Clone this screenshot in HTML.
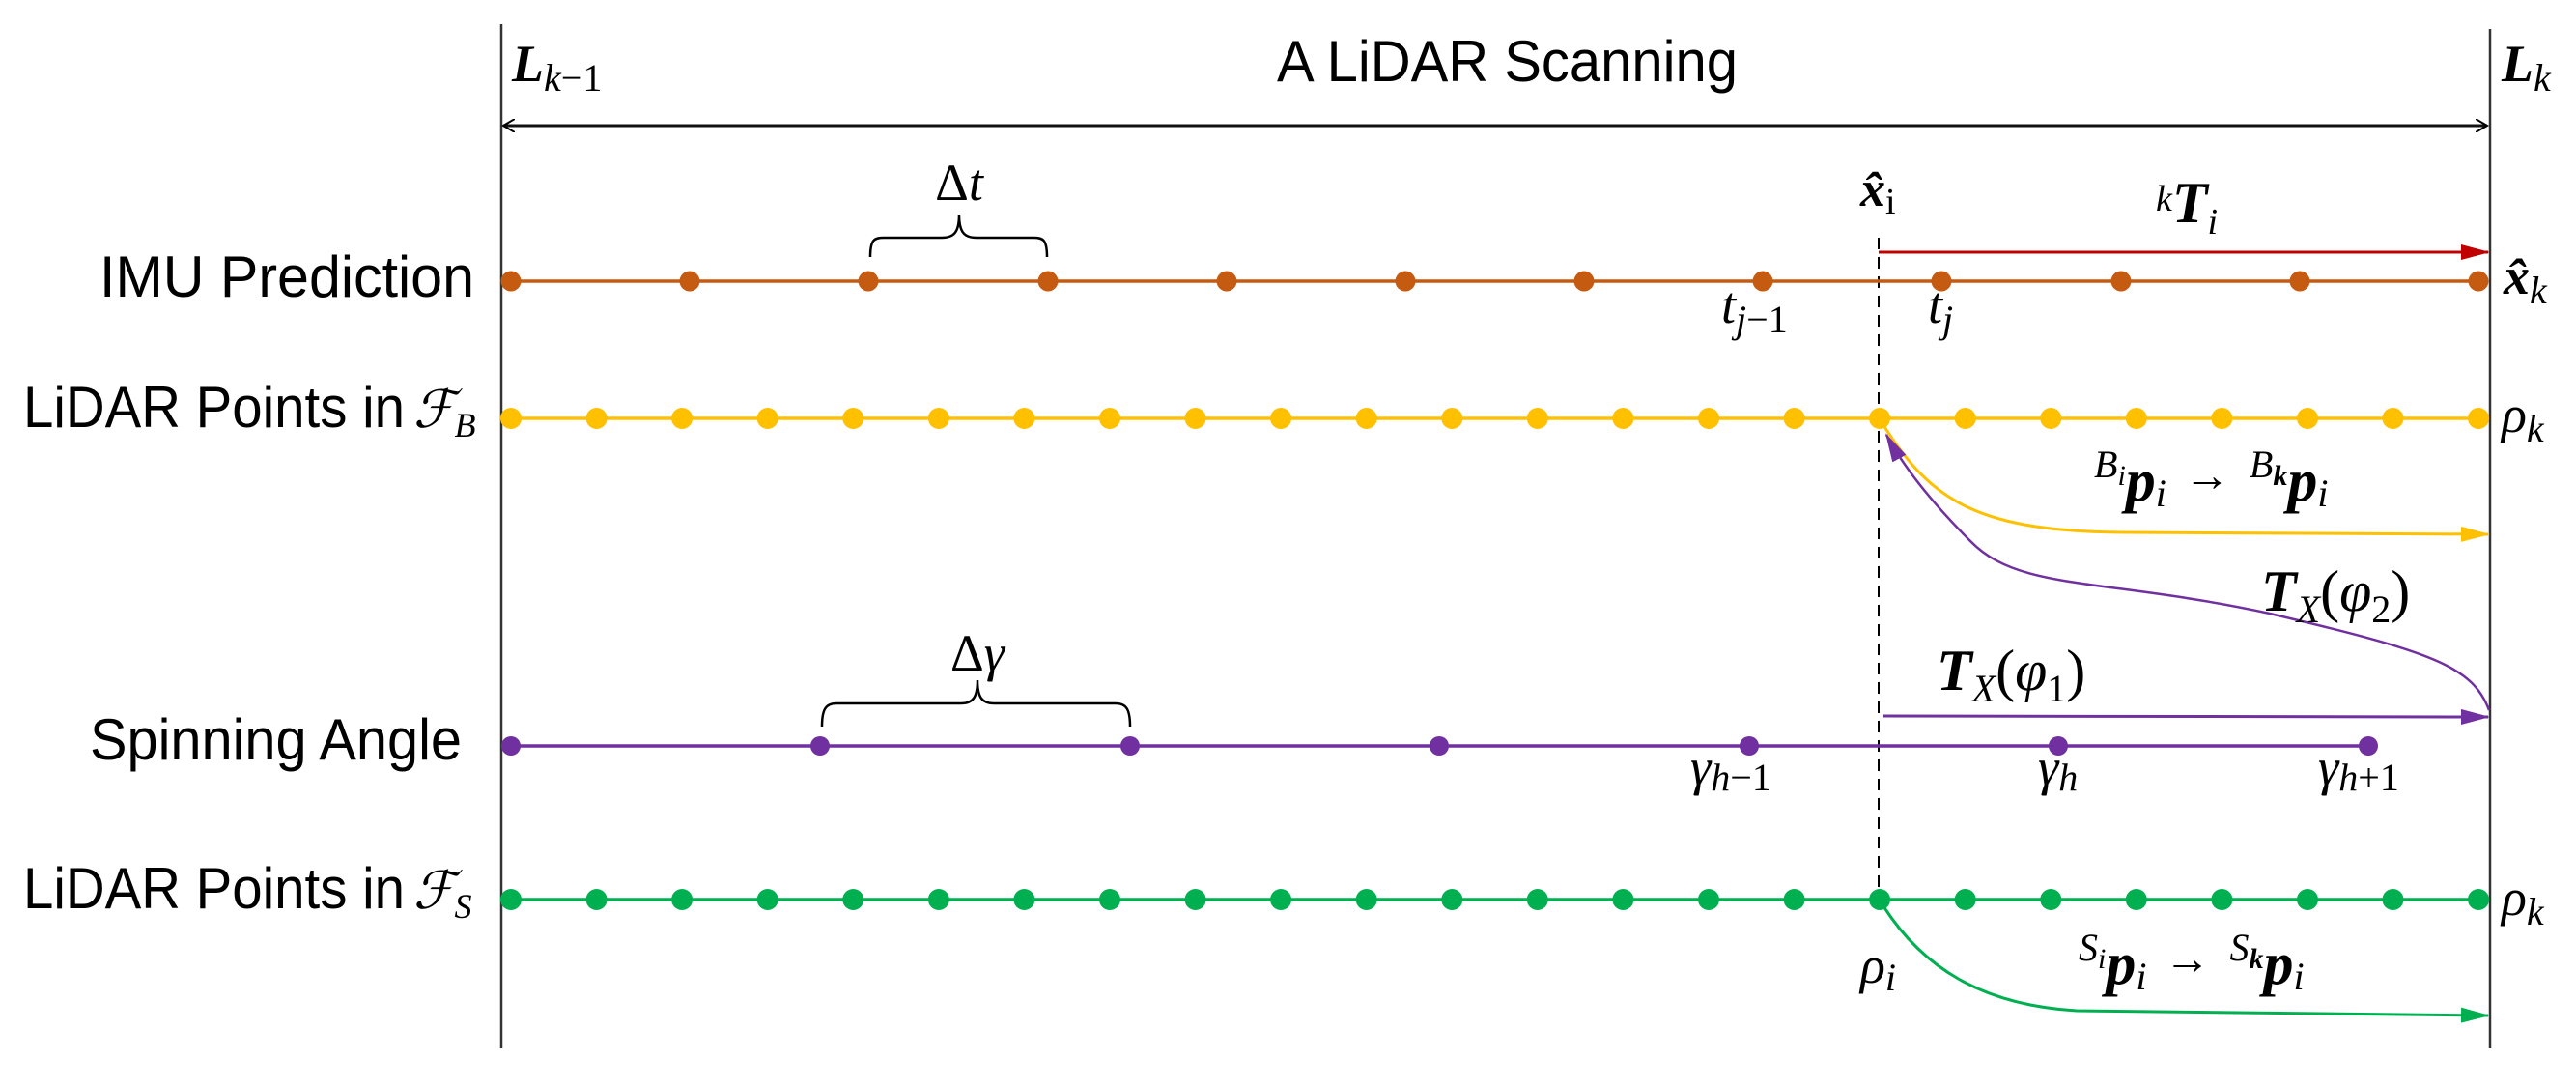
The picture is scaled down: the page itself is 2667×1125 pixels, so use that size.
<!DOCTYPE html>
<html><head><meta charset="utf-8"><style>
html,body{margin:0;padding:0;background:#fff;}
svg{display:block;}
.lab{font-family:"Liberation Sans",sans-serif;font-size:60px;fill:#000;}
.m{font-family:"Liberation Serif",serif;font-style:italic;fill:#000;}
.b{font-weight:bold;}
</style></head><body>
<svg width="2667" height="1125" viewBox="0 0 2667 1125" xmlns="http://www.w3.org/2000/svg">
<defs>
<marker id="open" markerWidth="14" markerHeight="14" refX="12" refY="7" orient="auto-start-reverse" markerUnits="userSpaceOnUse"><path d="M0,0 L12,7 L0,14" fill="none" stroke="#000" stroke-width="2"/></marker>
<marker id="ar" markerWidth="30" markerHeight="16" refX="28" refY="8" orient="auto" markerUnits="userSpaceOnUse"><path d="M0,0 L30,8 L0,16 z" fill="#C00000"/></marker>
<marker id="ay" markerWidth="30" markerHeight="16" refX="28" refY="8" orient="auto" markerUnits="userSpaceOnUse"><path d="M0,0 L30,8 L0,16 z" fill="#FFC000"/></marker>
<marker id="ap" markerWidth="30" markerHeight="16" refX="28" refY="8" orient="auto" markerUnits="userSpaceOnUse"><path d="M0,0 L30,8 L0,16 z" fill="#7030A0"/></marker>
<marker id="ag" markerWidth="30" markerHeight="16" refX="28" refY="8" orient="auto" markerUnits="userSpaceOnUse"><path d="M0,0 L30,8 L0,16 z" fill="#00B050"/></marker>
</defs>

<line x1="519" y1="25" x2="519" y2="1085" stroke="#333" stroke-width="2.5"/>
<line x1="2578" y1="30" x2="2578" y2="1085" stroke="#333" stroke-width="2.5"/>
<line x1="521" y1="130" x2="2575" y2="130" stroke="#111" stroke-width="3" marker-start="url(#open)" marker-end="url(#open)"/>
<text class="lab" x="1322" y="84" font-size="62" textLength="477" lengthAdjust="spacingAndGlyphs">A LiDAR Scanning</text>
<text class="m b" x="530" y="84" font-size="54">L<tspan font-size="40" font-weight="normal" dy="10">k</tspan><tspan font-size="40" font-weight="normal" font-style="normal">−1</tspan></text>
<text class="m b" x="2590" y="84" font-size="54">L<tspan font-size="40" font-weight="normal" dy="10">k</tspan></text>

<line x1="1945" y1="246" x2="1945" y2="931" stroke="#000" stroke-width="2" stroke-dasharray="12,8"/>

<!-- IMU row -->
<text class="lab" x="491" y="307" text-anchor="end" textLength="388" lengthAdjust="spacingAndGlyphs">IMU Prediction</text>
<line x1="529" y1="291" x2="2566" y2="291" stroke="#C55A11" stroke-width="3.5"/>
<g fill="#C55A11">
<circle cx="529" cy="291" r="10.5"/><circle cx="714" cy="291" r="10.5"/><circle cx="899" cy="291" r="10.5"/><circle cx="1085" cy="291" r="10.5"/><circle cx="1270" cy="291" r="10.5"/><circle cx="1455" cy="291" r="10.5"/><circle cx="1640" cy="291" r="10.5"/><circle cx="1825" cy="291" r="10.5"/><circle cx="2010" cy="291" r="10.5"/><circle cx="2196" cy="291" r="10.5"/><circle cx="2381" cy="291" r="10.5"/><circle cx="2566" cy="291" r="10.5"/>
</g>
<path d="M901,266 C901,248 905,246 915,246 L975,246 C988,246 993,240 993,222 C993,240 998,246 1011,246 L1070,246 C1080,246 1084,248 1084,266" fill="none" stroke="#000" stroke-width="2.5"/>
<text class="m" x="993" y="207" font-size="54" text-anchor="middle"><tspan font-style="normal">Δ</tspan>t</text>
<text class="m" x="1782" y="334" font-size="54">t<tspan font-size="40" dy="10">j</tspan><tspan font-size="40" font-style="normal">−1</tspan></text>
<text class="m" x="1996" y="334" font-size="54">t<tspan font-size="40" dy="10">j</tspan></text>
<text class="m b" x="1926" y="213" font-size="52">x̂<tspan font-size="38" font-weight="normal" font-style="normal" dy="8">i</tspan></text>
<line x1="1945" y1="261" x2="2576" y2="261" stroke="#C00000" stroke-width="3" marker-end="url(#ar)"/>
<text class="m" x="2232" y="218" font-size="38">k<tspan font-size="60" font-weight="bold" dy="12">T</tspan><tspan font-size="38" dy="12">i</tspan></text>
<text class="m b" x="2592" y="304" font-size="54">x̂<tspan font-size="40" font-weight="normal" dy="10">k</tspan></text>

<!-- LiDAR FB row -->
<text class="lab" x="24" y="442" textLength="395" lengthAdjust="spacingAndGlyphs">LiDAR Points in</text>
<text class="m" x="428" y="442" font-size="54">ℱ<tspan font-size="36" dy="10">B</tspan></text>
<line x1="529" y1="433" x2="2566" y2="433" stroke="#FFC000" stroke-width="3.5"/>
<g fill="#FFC000">
<circle cx="529" cy="433" r="11"/><circle cx="617.6" cy="433" r="11"/><circle cx="706.1" cy="433" r="11"/><circle cx="794.7" cy="433" r="11"/><circle cx="883.3" cy="433" r="11"/><circle cx="971.9" cy="433" r="11"/><circle cx="1060.4" cy="433" r="11"/><circle cx="1149" cy="433" r="11"/><circle cx="1237.6" cy="433" r="11"/><circle cx="1326.1" cy="433" r="11"/><circle cx="1414.7" cy="433" r="11"/><circle cx="1503.3" cy="433" r="11"/><circle cx="1591.8" cy="433" r="11"/><circle cx="1680.4" cy="433" r="11"/><circle cx="1769" cy="433" r="11"/><circle cx="1857.6" cy="433" r="11"/><circle cx="1946.1" cy="433" r="11"/><circle cx="2034.7" cy="433" r="11"/><circle cx="2123.3" cy="433" r="11"/><circle cx="2211.8" cy="433" r="11"/><circle cx="2300.4" cy="433" r="11"/><circle cx="2389" cy="433" r="11"/><circle cx="2477.5" cy="433" r="11"/><circle cx="2566" cy="433" r="11"/>
</g>
<text class="m" x="2590" y="447" font-size="54">ρ<tspan font-size="40" dy="10">k</tspan></text>
<text class="m" x="2168" y="494" font-size="40">B<tspan font-size="30" dy="8">i</tspan><tspan font-size="62" font-weight="bold" dy="16">p</tspan><tspan font-size="40" dy="6">i</tspan><tspan font-style="normal" font-size="48" dy="-16" dx="18">→</tspan><tspan font-size="40" dx="20" dy="-14">B</tspan><tspan font-size="30" font-weight="bold" dy="8">k</tspan><tspan font-size="62" font-weight="bold" dy="16">p</tspan><tspan font-size="40" dy="6">i</tspan></text>
<path d="M1950,440 C2000,520 2050,550 2200,551 L2576,553" fill="none" stroke="#FFC000" stroke-width="3" marker-end="url(#ay)"/>

<!-- purple curve -->
<path d="M2577,735 C2560,690 2520,675 2350,635 C2180,598 2090,612 2040,560 C2000,520 1972,485 1953,450" fill="none" stroke="#7030A0" stroke-width="2.5" marker-end="url(#ap)"/>
<text class="m" x="2341" y="632" font-size="60"><tspan font-weight="bold">T</tspan><tspan font-size="40" dy="12">X</tspan><tspan font-style="normal" dy="-12">(</tspan>φ<tspan font-size="40" font-style="normal" dy="12">2</tspan><tspan font-style="normal" dy="-12">)</tspan></text>
<text class="m" x="2005" y="714" font-size="60"><tspan font-weight="bold">T</tspan><tspan font-size="40" dy="12">X</tspan><tspan font-style="normal" dy="-12">(</tspan>φ<tspan font-size="40" font-style="normal" dy="12">1</tspan><tspan font-style="normal" dy="-12">)</tspan></text>
<line x1="1950" y1="741" x2="2576" y2="742" stroke="#7030A0" stroke-width="3" marker-end="url(#ap)"/>

<!-- Spinning row -->
<text class="lab" x="478" y="786" text-anchor="end" textLength="385" lengthAdjust="spacingAndGlyphs">Spinning Angle</text>
<line x1="529" y1="772" x2="2452" y2="772" stroke="#7030A0" stroke-width="3.5"/>
<g fill="#7030A0">
<circle cx="529" cy="772" r="10"/><circle cx="849" cy="772" r="10"/><circle cx="1170" cy="772" r="10"/><circle cx="1490" cy="772" r="10"/><circle cx="1811" cy="772" r="10"/><circle cx="2131" cy="772" r="10"/><circle cx="2452" cy="772" r="10"/>
</g>
<path d="M851,752 C851,734 855,728 866,728 L995,728 C1007,728 1012,722 1012,704 C1012,722 1017,728 1029,728 L1155,728 C1166,728 1170,734 1170,752" fill="none" stroke="#000" stroke-width="2.5"/>
<text class="m" x="1012" y="694" font-size="54" text-anchor="middle"><tspan font-style="normal">Δ</tspan>γ</text>
<text class="m" x="1750" y="812" font-size="54">γ<tspan font-size="40" dy="6">h</tspan><tspan font-size="40" font-style="normal">−1</tspan></text>
<text class="m" x="2110" y="812" font-size="54">γ<tspan font-size="40" dy="6">h</tspan></text>
<text class="m" x="2400" y="812" font-size="54">γ<tspan font-size="40" dy="6">h</tspan><tspan font-size="40" font-style="normal">+1</tspan></text>

<!-- LiDAR FS row -->
<text class="lab" x="24" y="940" textLength="395" lengthAdjust="spacingAndGlyphs">LiDAR Points in</text>
<text class="m" x="428" y="940" font-size="54">ℱ<tspan font-size="36" dy="10">S</tspan></text>
<line x1="529" y1="931" x2="2566" y2="931" stroke="#00B050" stroke-width="3.5"/>
<g fill="#00B050">
<circle cx="529" cy="931" r="11"/><circle cx="617.6" cy="931" r="11"/><circle cx="706.1" cy="931" r="11"/><circle cx="794.7" cy="931" r="11"/><circle cx="883.3" cy="931" r="11"/><circle cx="971.9" cy="931" r="11"/><circle cx="1060.4" cy="931" r="11"/><circle cx="1149" cy="931" r="11"/><circle cx="1237.6" cy="931" r="11"/><circle cx="1326.1" cy="931" r="11"/><circle cx="1414.7" cy="931" r="11"/><circle cx="1503.3" cy="931" r="11"/><circle cx="1591.8" cy="931" r="11"/><circle cx="1680.4" cy="931" r="11"/><circle cx="1769" cy="931" r="11"/><circle cx="1857.6" cy="931" r="11"/><circle cx="1946.1" cy="931" r="11"/><circle cx="2034.7" cy="931" r="11"/><circle cx="2123.3" cy="931" r="11"/><circle cx="2211.8" cy="931" r="11"/><circle cx="2300.4" cy="931" r="11"/><circle cx="2389" cy="931" r="11"/><circle cx="2477.5" cy="931" r="11"/><circle cx="2566" cy="931" r="11"/>
</g>
<text class="m" x="2590" y="947" font-size="54">ρ<tspan font-size="40" dy="10">k</tspan></text>
<text class="m" x="1926" y="1017" font-size="54">ρ<tspan font-size="40" dy="8">i</tspan></text>
<text class="m" x="2152" y="994" font-size="40">S<tspan font-size="30" dy="8">i</tspan><tspan font-size="62" font-weight="bold" dy="16">p</tspan><tspan font-size="40" dy="6">i</tspan><tspan font-style="normal" font-size="48" dy="-16" dx="18">→</tspan><tspan font-size="40" dx="20" dy="-14">S</tspan><tspan font-size="30" font-weight="bold" dy="8">k</tspan><tspan font-size="62" font-weight="bold" dy="16">p</tspan><tspan font-size="40" dy="6">i</tspan></text>
<path d="M1950,938 C1990,1000 2050,1040 2150,1046 L2576,1051" fill="none" stroke="#00B050" stroke-width="3" marker-end="url(#ag)"/>
</svg>
</body></html>
